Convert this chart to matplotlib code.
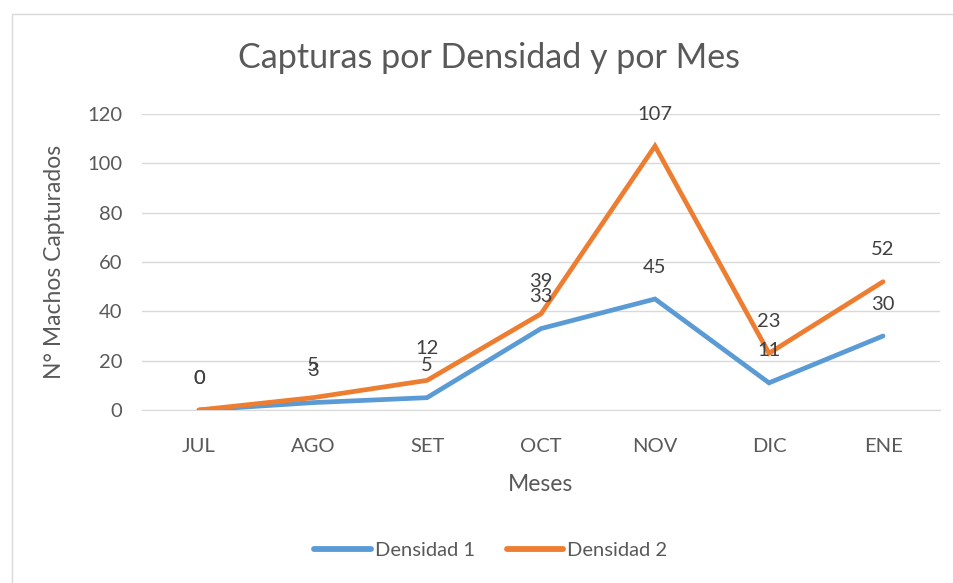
import matplotlib
matplotlib.use("Agg")
import matplotlib.pyplot as plt
from matplotlib.patches import Rectangle

meses = ["JUL", "AGO", "SET", "OCT", "NOV", "DIC", "ENE"]
densidad1 = [0, 3, 5, 33, 45, 11, 30]
densidad2 = [0, 5, 12, 39, 107, 23, 52]
yticks = [0, 20, 40, 60, 80, 100, 120]

W, H = 954, 583
plt.rcParams['font.family'] = ['Lato', 'DejaVu Sans']
gray = '#595959'

fig = plt.figure(figsize=(W/100, H/100), dpi=100)
# chart frame
fig.patches.append(Rectangle((12/W, -0.1), 1.2, (H-14)/H + 0.1, transform=fig.transFigure,
                             fill=False, edgecolor='#d9d9d9', linewidth=1.0))

left, right = 142, 940
top, bottom = 114, 410
ax = fig.add_axes([left/W, 1 - bottom/H, (right-left)/W, (bottom-top)/H])
x = list(range(len(meses)))
c1, c2 = '#5B9BD5', '#ED7D31'
ax.plot(x, densidad1, color=c1, lw=3.4, solid_capstyle='round', solid_joinstyle='miter', label='Densidad 1', zorder=3)
ax.plot(x, densidad2, color=c2, lw=3.4, solid_capstyle='round', solid_joinstyle='miter', label='Densidad 2', zorder=4)

for xi, v in zip(x, densidad1):
    ax.annotate(str(v), (xi, v), xytext=(0, 23), textcoords='offset points', ha='center', va='center',
                fontsize=14.5, color='#404040', zorder=5)
for xi, v in zip(x, densidad2):
    ax.annotate(str(v), (xi, v), xytext=(0, 23), textcoords='offset points', ha='center', va='center',
                fontsize=14.5, color='#404040', zorder=5)

ax.set_xlim(-0.5, len(meses) - 0.5)
ax.set_ylim(0, 120)
ax.set_yticks(yticks)
ax.set_xticks(x)
ax.set_xticklabels(meses)
ax.grid(axis='y', color='#d9d9d9', lw=1.0)
ax.set_axisbelow(True)
for s in ['top', 'right', 'left']:
    ax.spines[s].set_visible(False)
ax.spines['bottom'].set_color('#d9d9d9')
ax.tick_params(axis='both', length=0, colors=gray, labelsize=14.5)
ax.tick_params(axis='x', pad=20)
ax.tick_params(axis='y', pad=14)

ax.set_xlabel('Meses', fontsize=16.5, color=gray, labelpad=14)
ax.set_ylabel('N° Machos Capturados', fontsize=16.5, color=gray, labelpad=16)
fig.text(489/W, 1 - 58/H, 'Capturas por Densidad y por Mes', ha='center', va='center',
         fontsize=24.5, color=gray)

leg = fig.legend(loc='center', bbox_to_anchor=(491/W, 1 - 550/H), ncol=2, frameon=False,
                 fontsize=14.5, handlelength=2.8, columnspacing=1.6, handletextpad=0.2)
for t in leg.get_texts():
    t.set_color(gray)
for l in leg.get_lines():
    l.set_linewidth(4.2)
    l.set_solid_capstyle('round')

fig.savefig('out.png', dpi=100)
